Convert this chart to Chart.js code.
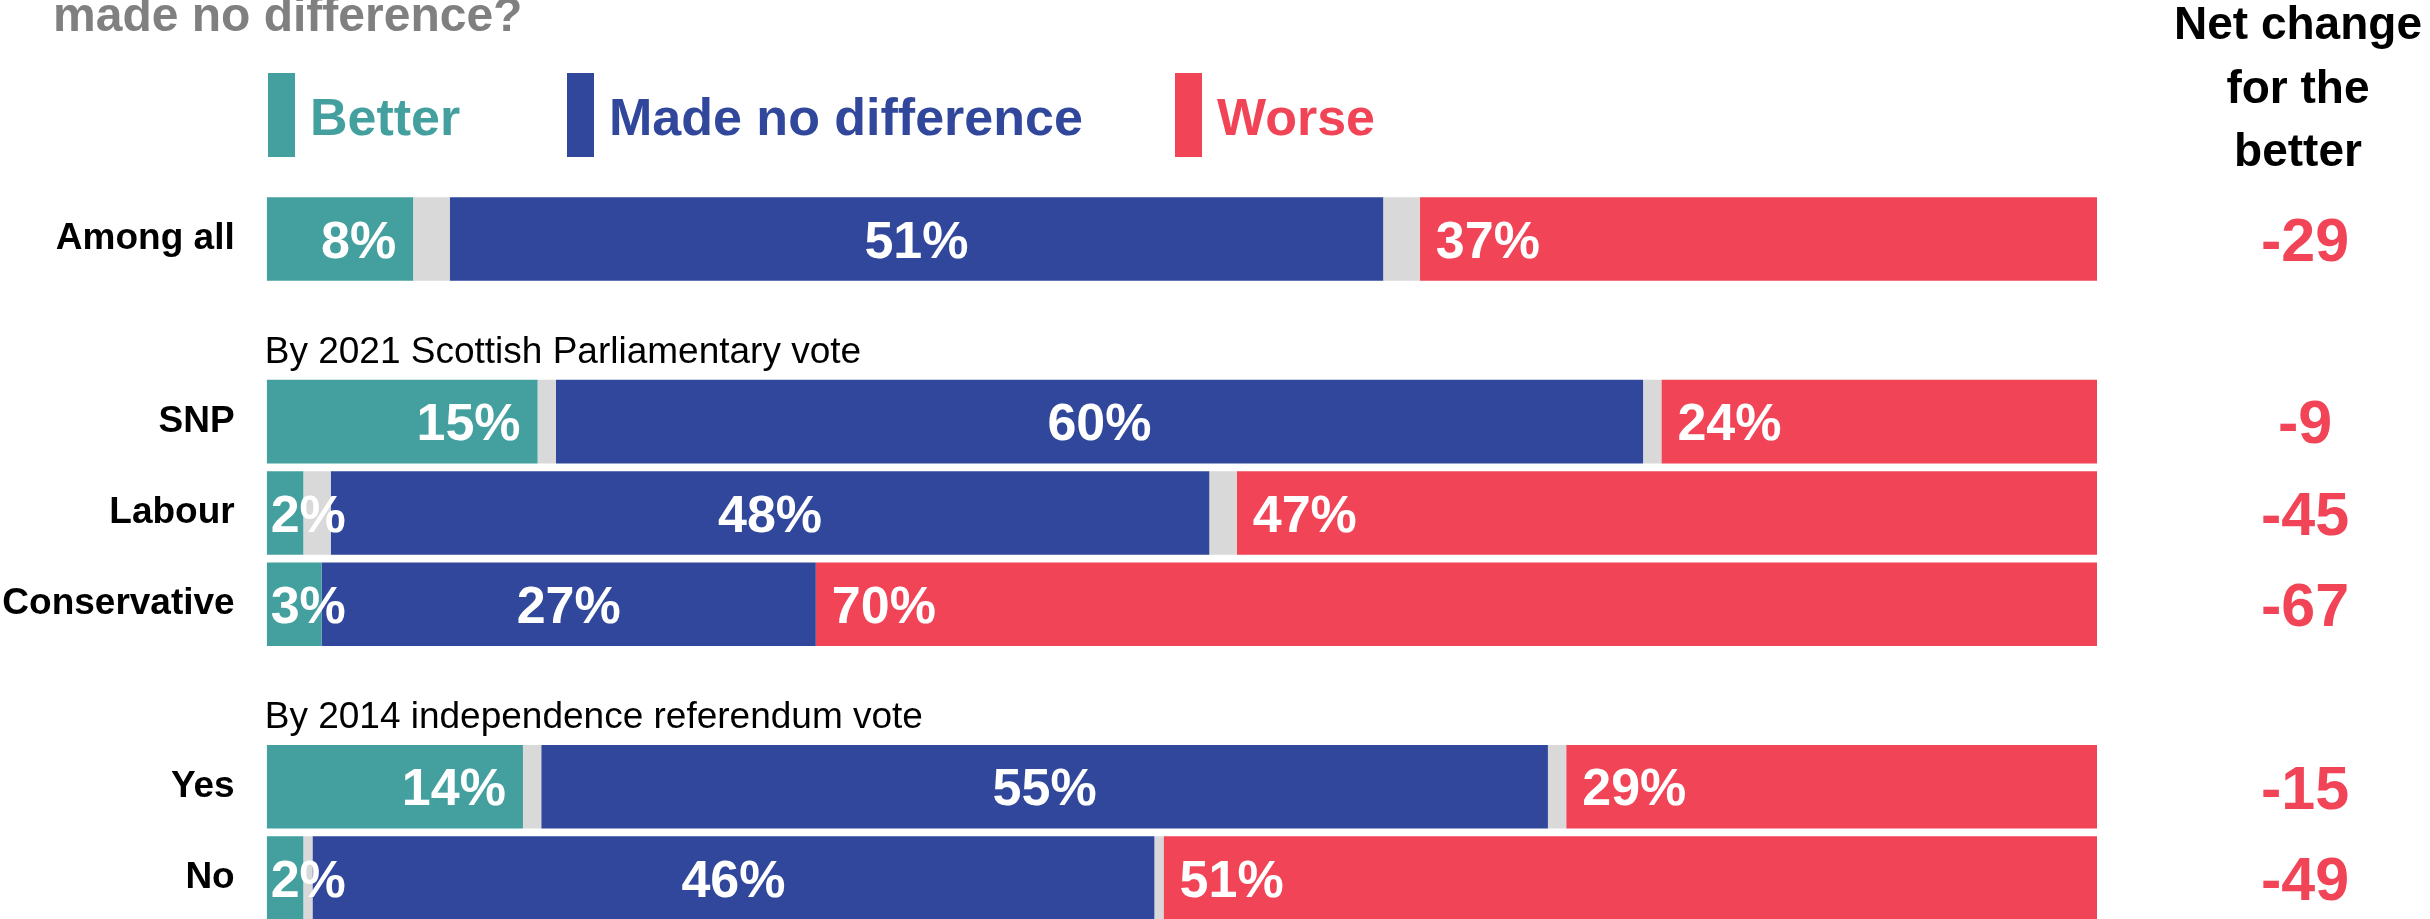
<!DOCTYPE html>
<html><head><meta charset="utf-8">
<style>
html,body{margin:0;padding:0;background:#fff;overflow:hidden;}
#wrap{position:relative;width:2430px;height:930px;}
</style>
<script src="https://cdn.jsdelivr.net/npm/chart.js@4.4.1/dist/chart.umd.min.js"></script>
</head><body>
<div id="wrap"><canvas id="c" width="2430" height="930"></canvas></div>
<script>
// ---------- DATA ----------
const categories = ['Among all', '', 'SNP', 'Labour', 'Conservative', '', 'Yes', 'No'];
const sectionHeaders = ['By 2021 Scottish Parliamentary vote', 'By 2014 independence referendum vote'];
// bar widths (percent of full bar)
const betterValues   = [8,  null, 14.8, 2,   3,  null, 14, 2];
const noDiffValues   = [51, null, 59.4, 48,  27, null, 55, 46];
const worseValues    = [37, null, 23.8, 47,  70, null, 29, 51];
const dontKnowHalf   = [2,  null, 1,    1.5, 0,  null, 1,  0.5];
// printed labels
const betterLabels   = [8,  null, 15, 2,  3,  null, 14, 2];
const noDiffLabels   = [51, null, 60, 48, 27, null, 55, 46];
const worseLabels    = [37, null, 24, 47, 70, null, 29, 51];
const netChange      = [-29, null, -9, -45, -67, null, -15, -49];
const legendLabels   = ['Better', 'Made no difference', 'Worse'];
const titleText      = 'made no difference?';
const netHeader      = ['Net change', 'for the', 'better'];

// ---------- STYLE ----------
const FF = '"Liberation Sans", Arial, Helvetica, sans-serif';
const C_BETTER = '#43a09f';
const C_NODIFF = '#31479c';
const C_WORSE  = '#f24457';
const C_DK     = '#d9d9d9';

const overlay = {
  id: 'overlay',
  afterDraw(chart) {
    const ctx = chart.ctx;
    const ca = chart.chartArea;
    const yS = chart.scales.y;
    ctx.save();
    ctx.textBaseline = 'alphabetic';

    // title fragment
    ctx.font = `bold 48px ${FF}`;
    ctx.fillStyle = '#808080';
    ctx.textAlign = 'left';
    ctx.fillText(titleText, 53, 31);

    // net change header
    ctx.font = `bold 46px ${FF}`;
    ctx.fillStyle = '#000';
    ctx.textAlign = 'center';
    const hb = [39, 103, 166];
    netHeader.forEach((t, i) => ctx.fillText(t, 2298, hb[i]));

    // legend
    const legX = [268, 567, 1175];
    const legC = [C_BETTER, C_NODIFF, C_WORSE];
    ctx.font = `bold 52px ${FF}`;
    ctx.textAlign = 'left';
    legendLabels.forEach((t, i) => {
      ctx.fillStyle = legC[i];
      ctx.fillRect(legX[i], 73, 27, 84);
      ctx.fillText(t, legX[i] + 42, 135);
    });

    // section headers in blank category rows
    ctx.font = `37px ${FF}`;
    ctx.fillStyle = '#000';
    let h = 0;
    categories.forEach((c, i) => {
      if (c === '' && h < sectionHeaders.length) {
        ctx.fillText(sectionHeaders[h++], ca.left - 2, yS.getPixelForValue(i) + 33);
      }
    });

    // data labels
    ctx.font = `bold 52px ${FF}`;
    ctx.fillStyle = '#fff';
    const capHalf = 0.716 * 52 / 2;
    const drawSet = (dsIndex, labels, mode) => {
      const meta = chart.getDatasetMeta(dsIndex);
      meta.data.forEach((el, i) => {
        if (labels[i] == null) return;
        const p = el.getProps(['x', 'base', 'y'], true);
        const start = Math.min(p.x, p.base), end = Math.max(p.x, p.base);
        const txt = labels[i] + '%';
        const w = ctx.measureText(txt).width;
        const yb = p.y + capHalf;
        if (mode === 'end') {
          if (w + 24 > end - start) { ctx.textAlign = 'left'; ctx.fillText(txt, start + 4, yb); }
          else { ctx.textAlign = 'right'; ctx.fillText(txt, end - 17, yb); }
        } else if (mode === 'center') {
          ctx.textAlign = 'center'; ctx.fillText(txt, (start + end) / 2, yb);
        } else {
          ctx.textAlign = 'left'; ctx.fillText(txt, start + 16, yb);
        }
      });
    };
    drawSet(0, betterLabels, 'end');
    drawSet(2, noDiffLabels, 'center');
    drawSet(4, worseLabels, 'start');

    // net change values, on the row of each bar
    ctx.font = `bold 61px ${FF}`;
    ctx.fillStyle = C_WORSE;
    ctx.textAlign = 'center';
    netChange.forEach((v, i) => {
      if (v == null) return;
      ctx.fillText(String(v), 2305, yS.getPixelForValue(i) + 0.716 * 61 / 2);
    });
    ctx.restore();
  }
};

const ds = (label, data, color) => ({
  label, data, backgroundColor: color, borderWidth: 0,
  barPercentage: 0.915, categoryPercentage: 1.0
});

new Chart(document.getElementById('c'), {
  type: 'bar',
  data: {
    labels: categories,
    datasets: [
      ds('Better', betterValues, C_BETTER),
      ds("Don't know (a)", dontKnowHalf, C_DK),
      ds('Made no difference', noDiffValues, C_NODIFF),
      ds("Don't know (b)", dontKnowHalf, C_DK),
      ds('Worse', worseValues, C_WORSE)
    ]
  },
  options: {
    indexAxis: 'y',
    responsive: false,
    animation: false,
    devicePixelRatio: 1,
    layout: { padding: { left: 0, right: 333, top: 193.4, bottom: 6.3 } },
    plugins: { legend: { display: false }, tooltip: { enabled: false } },
    scales: {
      x: { stacked: true, min: 0, max: 100, display: false },
      y: {
        stacked: true,
        grid: { display: false, drawTicks: false },
        border: { display: false },
        ticks: { autoSkip: false, padding: 32, color: '#000',
                 font: { family: FF, size: 37, weight: 'bold' } },
        afterFit(s) { s.width = 266.7; s.paddingTop = 0; s.paddingBottom = 0; }
      }
    }
  },
  plugins: [overlay]
});
</script>
</body></html>
